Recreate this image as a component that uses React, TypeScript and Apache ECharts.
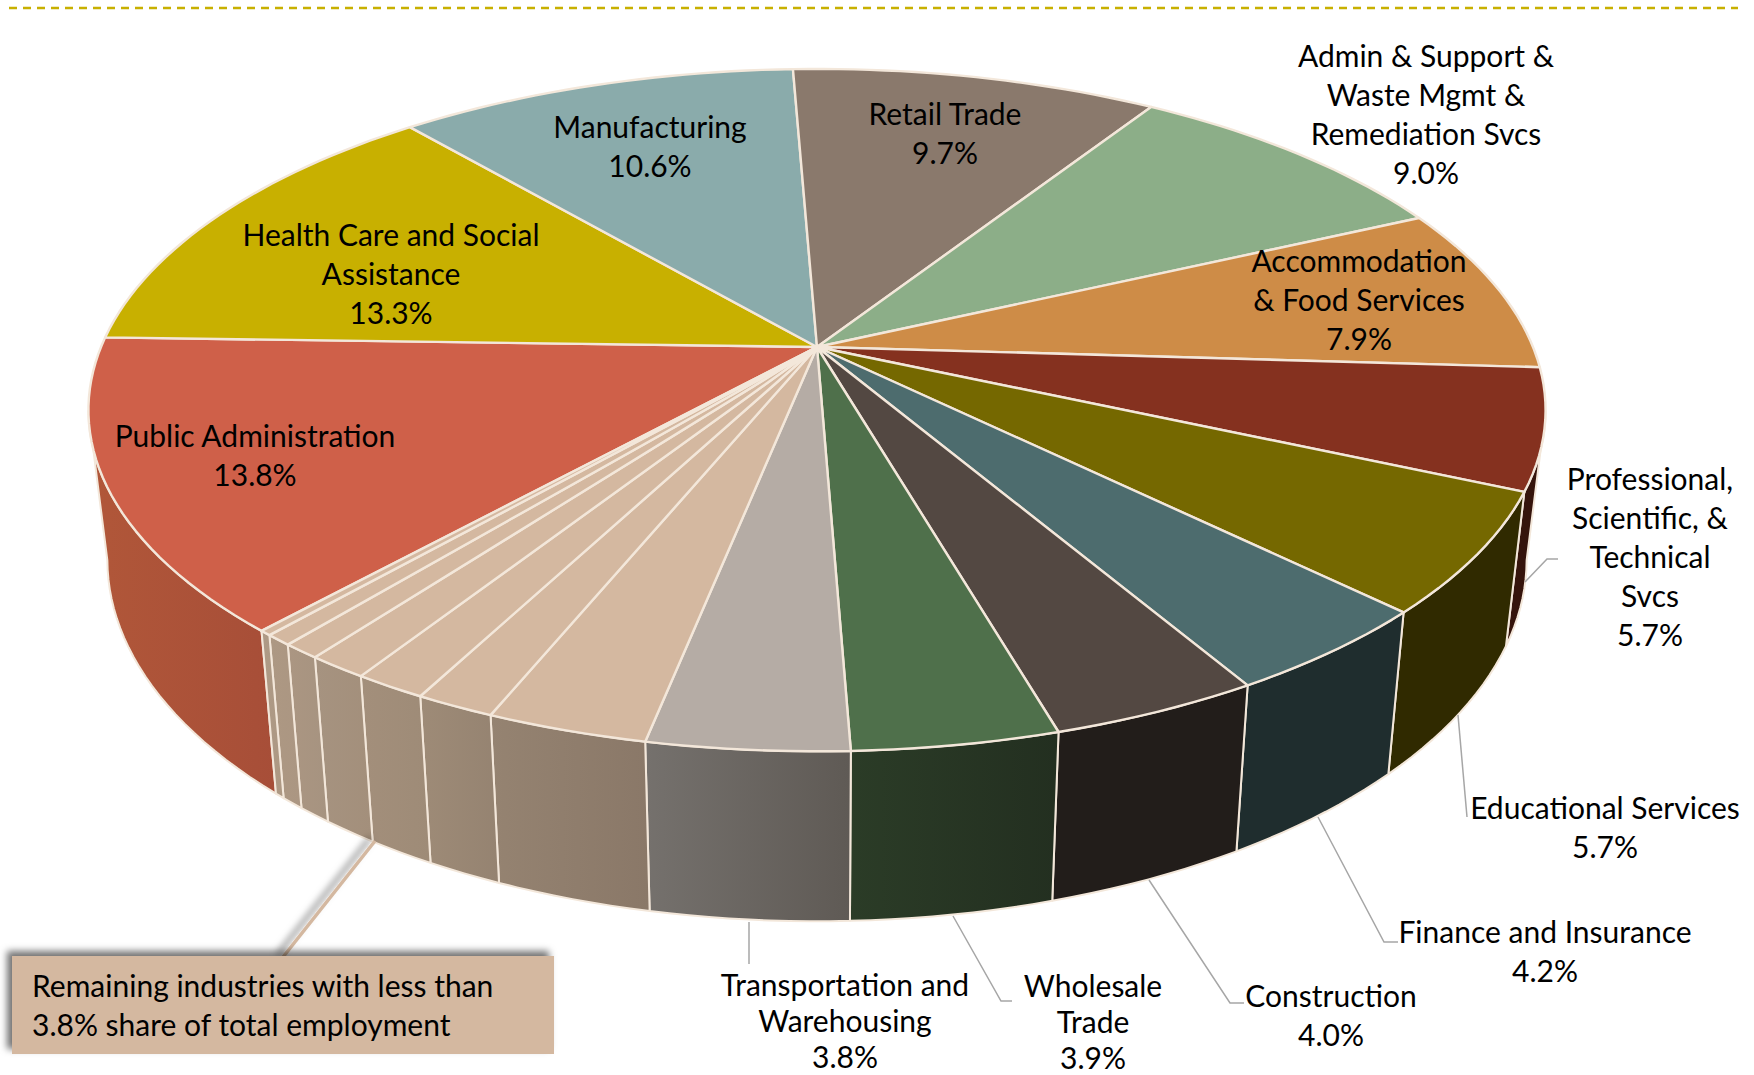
import React, { useEffect, useRef } from "react";
import * as echarts from "echarts";

// ---- data ----
const labelledNames = [
  "Public Administration",
  "Health Care and Social\nAssistance",
  "Manufacturing",
  "Retail Trade",
  "Admin & Support &\nWaste Mgmt &\nRemediation Svcs",
  "Accommodation\n& Food Services",
  "Professional,\nScientific, &\nTechnical\nSvcs",
  "Educational Services",
  "Finance and Insurance",
  "Construction",
  "Wholesale\nTrade",
  "Transportation and\nWarehousing",
];
const labelledValues = [13.8, 13.3, 10.6, 9.7, 9.0, 7.9, 5.7, 5.7, 4.2, 3.96, 3.86, 3.76];
const remainingValues = [3.02, 1.5, 1.37, 1.15, 0.73, 0.52, 0.23];
const calloutText = "Remaining industries with less than\n3.8% share of total employment";

const sliceValues = [...labelledValues, ...remainingValues];

// ---- styles ----
const remainingTop = "#D4B8A0";
const topColors = [
  "#CF6049", "#C8B000", "#8AABAB", "#8A796C", "#8CAE88", "#CE8C47",
  "#85311F", "#756800", "#4D6C6E", "#534842", "#4F704B", "#B5ACA5",
  ...remainingValues.map(() => remainingTop),
];
const wallLeft = [
  "#B15739", "#8a7a00", "#5f7676", "#60544b", "#62795e", "#8f6131",
  "#35140C", "#302A00", "#1F2D2E", "#221D1A", "#2B3C27", "#75716D",
  "#958371", "#9E8B77", "#A38F7B", "#A69380", "#AB9682", "#AD9883", "#AE9A86",
];
const wallRight = [
  "#A74E38", "#8a7a00", "#5f7676", "#60544b", "#62795e", "#8f6131",
  "#35140C", "#302A00", "#1F2D2E", "#221D1A", "#232F20", "#5F5A55",
  "#8A7868", "#958371", "#9E8B77", "#A38F7B", "#A69380", "#AB9682", "#AD9883",
];
const edge = "#F3E7DA";

// ---- perspective of the disc ----
const CX = 817;
const CY = 347;
const RX = 716;
const RY = 329.5;
const K = 0.185;
const START_ANGLE = 222;
const WALL_FROM = 100.8;
const WALL_TO = 259.2;
const total = sliceValues.reduce((s, v) => s + v, 0);

const toAngle = (cumulative: number) => START_ANGLE + (cumulative / total) * 360;
const cumulativeBefore = (i: number) => sliceValues.slice(0, i).reduce((s, v) => s + v, 0);

function rimTop(deg: number): number[] {
  const t = (deg * Math.PI) / 180;
  const X = Math.sin(t);
  const Y = -Math.cos(t);
  const d = 1 - K * Y;
  return [CX + (RX * X) / d, CY + (RY * Y) / d];
}
function rimBottom(deg: number): number[] {
  const [x, y] = rimTop(deg);
  return [CX + (x - CX) * 0.974, y + 154.4 + 0.06 * (y - 492)];
}
function arc(from: number, to: number, fn: (d: number) => number[]): number[][] {
  const n = Math.max(2, Math.ceil(Math.abs(to - from) / 1.5));
  const pts: number[][] = [];
  for (let i = 0; i <= n; i++) pts.push(fn(from + ((to - from) * i) / n));
  return pts;
}

const renderTop = (params: any) => {
  const i = params.dataIndex;
  const a = toAngle(cumulativeBefore(i));
  const b = toAngle(cumulativeBefore(i + 1));
  return {
    type: "polygon",
    shape: { points: [[CX, CY], ...arc(a, b, rimTop)] },
    style: { fill: topColors[i], stroke: edge, lineWidth: 2.4, lineJoin: "round" },
  };
};

const renderWall = (params: any) => {
  const i = params.dataIndex;
  let a = toAngle(cumulativeBefore(i));
  let b = toAngle(cumulativeBefore(i + 1));
  if (a >= 360 && b >= 360) {
    a -= 360;
    b -= 360;
  }
  const from = Math.max(a, WALL_FROM);
  const to = Math.min(b, WALL_TO);
  if (to <= from) return { type: "group", children: [] };
  const points = [...arc(from, to, rimTop), ...arc(to, from, rimBottom)];
  return {
    type: "polygon",
    shape: { points },
    style: {
      fill: new echarts.graphic.LinearGradient(0, 0, 1, 0, [
        { offset: 0, color: wallLeft[i] },
        { offset: 1, color: wallRight[i] },
      ]),
      stroke: edge,
      lineWidth: 2,
      lineJoin: "round",
    },
  };
};

// centre of each label block, and the line spacing of each
const labelCenters = [
  [255, 454.5], [391, 273], [650, 145.5], [945, 132.5], [1426, 113.5], [1359, 298.5],
  [1650, 555.5], [1605, 826], [1545, 950], [1331, 1014], [1093, 1021], [845, 1020],
];
const labelLineHeights = [39, 39, 39, 39, 39, 39, 39, 39, 39, 39, 36, 36];
const leaders = [
  [[1525, 582], [1547, 559], [1558, 559]],
  [[1458, 715], [1467, 817]],
  [[1318, 817], [1384, 942], [1398, 942]],
  [[1149, 880], [1230, 1003], [1244, 1003]],
  [[953, 916], [1001, 1001], [1012, 1001]],
  [[749, 922], [749, 964]],
];

export default function App() {
  const ref = useRef<HTMLDivElement>(null);
  useEffect(() => {
    const chart = echarts.init(ref.current!, undefined, { renderer: "svg" });
    const font = "Lato, Carlito, sans-serif";
    const fontSize = 30;
    chart.setOption({
      animation: false,
      backgroundColor: "#ffffff",
      series: [
        {
          type: "custom",
          coordinateSystem: "none",
          silent: true,
          z: 2,
          data: sliceValues.map((v) => [v]),
          renderItem: renderWall,
        },
        {
          type: "custom",
          coordinateSystem: "none",
          silent: true,
          z: 3,
          data: sliceValues.map((v) => [v]),
          renderItem: renderTop,
        },
      ],
      graphic: [
        {
          type: "line",
          z: 10,
          shape: { x1: 9, y1: 8, x2: 1738, y2: 8 },
          style: { stroke: "#C8B000", lineWidth: 2.5, lineDash: [8, 6] },
        },
        ...leaders.map((points) => ({
          type: "polyline",
          z: 10,
          shape: { points },
          style: { stroke: "#A6A6A6", lineWidth: 1.5, fill: "none" },
        })),
        {
          type: "line",
          z: 10,
          shape: { x1: 375, y1: 841, x2: 283, y2: 957 },
          style: {
            stroke: remainingTop,
            lineWidth: 3.5,
            shadowBlur: 7,
            shadowOffsetX: -5,
            shadowOffsetY: -3,
            shadowColor: "rgba(0,0,0,0.55)",
          },
        },
        {
          type: "rect",
          z: 11,
          shape: { x: 12, y: 956, width: 542, height: 98 },
          style: {
            fill: remainingTop,
            shadowBlur: 7,
            shadowOffsetX: -5,
            shadowOffsetY: -5,
            shadowColor: "rgba(0,0,0,0.55)",
          },
        },
        {
          type: "text",
          z: 12,
          x: 32,
          y: 1004.5,
          style: {
            text: calloutText,
            fill: "#000000",
            font: `${fontSize}px ${font}`,
            lineHeight: 39,
            align: "left",
            verticalAlign: "middle",
          },
        },
        ...labelledNames.map((name, i) => ({
          type: "text",
          z: 12,
          x: labelCenters[i][0],
          y: labelCenters[i][1],
          style: {
            text: `${name}\n${labelledValues[i].toFixed(1)}%`,
            fill: "#000000",
            font: `${fontSize}px ${font}`,
            lineHeight: labelLineHeights[i],
            align: "center",
            verticalAlign: "middle",
          },
        })),
      ],
    });
    return () => chart.dispose();
  }, []);
  return (
    <div
      ref={ref}
      style={{ position: "absolute", left: 0, top: 0, width: 1754, height: 1075 }}
    />
  );
}
